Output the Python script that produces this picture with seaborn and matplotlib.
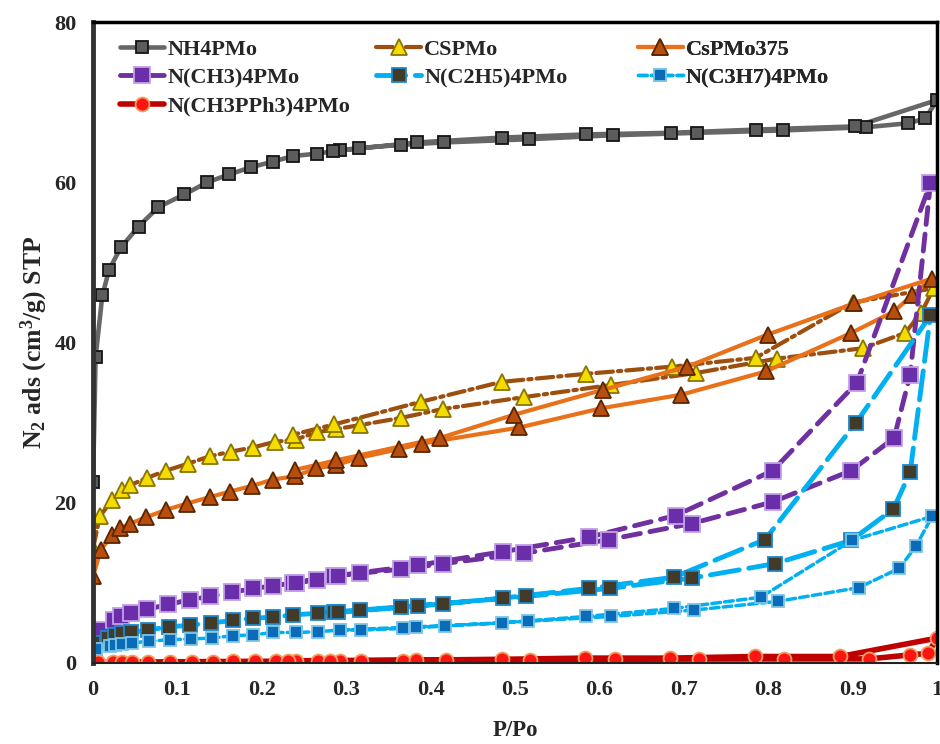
import pandas as pd
import matplotlib
matplotlib.use("Agg")
import matplotlib.pyplot as plt
import seaborn as sns

# ---- data (adsorption branch, then desorption branch) ----
nh4_ads_p = [0.0, 0.003, 0.011, 0.019, 0.033, 0.054, 0.077, 0.108, 0.135, 0.161, 0.187, 0.213, 0.237,
             0.265, 0.292, 0.315, 0.365, 0.416, 0.516, 0.616, 0.716, 0.817, 0.916, 0.966, 0.986, 1.0]
nh4_ads_v = [22.6, 38.2, 45.9, 49.1, 51.9, 54.5, 56.9, 58.5, 60.0, 61.0, 61.9, 62.6, 63.3,
             63.6, 64.0, 64.3, 64.7, 65.0, 65.4, 65.9, 66.2, 66.5, 66.9, 67.4, 68.0, 70.3]
nh4_des_p = [0.903, 0.785, 0.685, 0.584, 0.484, 0.384, 0.284]
nh4_des_v = [67.0, 66.6, 66.2, 66.0, 65.6, 65.0, 63.9]

cs_ads_p = [0.0, 0.008, 0.023, 0.034, 0.044, 0.064, 0.086, 0.113, 0.138, 0.164, 0.189, 0.215, 0.240,
            0.265, 0.288, 0.316, 0.365, 0.414, 0.511, 0.613, 0.714, 0.810, 0.912, 0.962, 0.981, 0.996]
cs_ads_v = [14.3, 18.3, 20.4, 21.6, 22.2, 23.1, 24.0, 24.9, 25.8, 26.4, 26.9, 27.6, 27.9,
            28.8, 29.2, 29.7, 30.6, 31.7, 33.2, 34.7, 36.2, 38.0, 39.3, 41.2, 43.7, 46.8]
cs_des_p = [0.900, 0.785, 0.686, 0.584, 0.484, 0.388, 0.286, 0.237]
cs_des_v = [45.0, 38.1, 37.0, 36.1, 35.1, 32.6, 29.8, 28.5]

cs375_ads_p = [0.0, 0.0, 0.009, 0.023, 0.032, 0.044, 0.063, 0.086, 0.111, 0.138, 0.162, 0.188, 0.213,
               0.239, 0.264, 0.288, 0.315, 0.362, 0.390, 0.505, 0.602, 0.697, 0.797, 0.898, 0.949, 0.970, 0.994]
cs375_ads_v = [1.5, 10.8, 14.1, 16.0, 16.8, 17.4, 18.2, 19.1, 19.9, 20.7, 21.4, 22.1, 22.9,
               23.3, 24.3, 24.7, 25.6, 26.7, 27.4, 29.4, 31.8, 33.5, 36.4, 41.2, 43.9, 45.9, 48.0]
cs375_des_p = [0.902, 0.799, 0.704, 0.604, 0.499, 0.411, 0.288, 0.239]
cs375_des_v = [44.9, 41.0, 37.0, 34.1, 31.0, 28.1, 25.3, 24.1]

me_ads_p = [0.008, 0.025, 0.033, 0.045, 0.064, 0.089, 0.115, 0.139, 0.165, 0.189, 0.213, 0.237, 0.265,
            0.286, 0.316, 0.365, 0.415, 0.511, 0.611, 0.709, 0.805, 0.898, 0.949, 0.968, 0.992]
me_ads_v = [4.1, 5.4, 5.8, 6.2, 6.7, 7.3, 7.9, 8.3, 8.8, 9.3, 9.6, 10.0, 10.4,
            10.9, 11.2, 11.7, 12.4, 13.7, 15.4, 17.4, 20.1, 24.0, 28.1, 36.0, 59.9]
me_des_p = [0.905, 0.805, 0.690, 0.587, 0.486, 0.385, 0.290, 0.240]
me_des_v = [35.0, 24.0, 18.4, 15.7, 13.9, 12.2, 10.9, 10.0]

et_ads_p = [0.0, 0.018, 0.026, 0.034, 0.045, 0.065, 0.090, 0.115, 0.140, 0.166, 0.190, 0.213, 0.237,
            0.267, 0.286, 0.316, 0.365, 0.415, 0.513, 0.612, 0.710, 0.808, 0.898, 0.948, 0.968, 0.992]
et_ads_v = [2.5, 3.1, 3.5, 3.7, 3.8, 4.1, 4.5, 4.7, 5.0, 5.3, 5.6, 5.7, 6.0,
            6.2, 6.4, 6.6, 7.0, 7.4, 8.3, 9.3, 10.6, 12.4, 15.3, 19.2, 23.8, 43.4]
et_des_p = [0.904, 0.796, 0.688, 0.587, 0.486, 0.385, 0.290]
et_des_v = [30.0, 15.4, 10.7, 9.3, 8.1, 7.1, 6.3]

pr_ads_p = [0.003, 0.020, 0.026, 0.034, 0.046, 0.066, 0.091, 0.116, 0.141, 0.166, 0.190, 0.213, 0.241,
            0.267, 0.292, 0.318, 0.367, 0.417, 0.515, 0.614, 0.712, 0.812, 0.907, 0.955, 0.975, 0.994]
pr_ads_v = [1.7, 2.1, 2.2, 2.4, 2.5, 2.7, 2.9, 3.0, 3.1, 3.4, 3.5, 3.8, 3.8,
            3.9, 4.1, 4.1, 4.3, 4.6, 5.2, 5.8, 6.6, 7.7, 9.4, 11.8, 14.6, 18.3]
pr_des_p = [0.899, 0.791, 0.688, 0.584, 0.484, 0.383, 0.292]
pr_des_v = [15.3, 8.2, 6.8, 5.8, 5.0, 4.5, 4.1]

ph_ads_p = [0.002, 0.006, 0.024, 0.034, 0.046, 0.065, 0.091, 0.117, 0.142, 0.166, 0.192, 0.217, 0.241,
            0.267, 0.292, 0.318, 0.367, 0.418, 0.518, 0.618, 0.718, 0.819, 0.919, 0.968, 0.989, 1.0]
ph_ads_v = [0.05, 0.06, 0.08, 0.1, 0.1, 0.12, 0.14, 0.15, 0.17, 0.18, 0.2, 0.21, 0.22,
            0.23, 0.25, 0.27, 0.3, 0.32, 0.38, 0.45, 0.48, 0.5, 0.5, 1.0, 1.2, 3.1]
ph_des_p = [0.885, 0.784, 0.684, 0.583, 0.484, 0.382, 0.281, 0.231]
ph_des_v = [0.8, 0.8, 0.6, 0.6, 0.45, 0.35, 0.3, 0.25]

# ---- styles ----
styles = {
    "NH4PMo": dict(color="#676767", lw=3.3, ls="-", marker="s", ms=9,
                   mfc="#5c5c5c", mec="#151515"),
    "CSPMo": dict(color="#9C4F0E", lw=3.0, ls=(0, (4, 1.2, 0.8, 1.2)), marker="^", ms=11,
                  mfc="#F5DC00", mec="#8a7400"),
    "CsPMo375": dict(color="#E8711A", lw=3.0, ls="-", marker="^", ms=11,
                     mfc="#B84E0C", mec="#5a2600"),
    "N(CH3)4PMo": dict(color="#7030A0", lw=3.5, ls=(0, (3.5, 2)), marker="s", ms=11.5,
                       mfc="#6A2EAA", mec="#c2a0e6"),
    "N(C2H5)4PMo": dict(color="#00B0F0", lw=3.5, ls=(0, (6, 2)), marker="s", ms=10,
                        mfc="#433b2a", mec="#1c88cc"),
    "N(C3H7)4PMo": dict(color="#00B0F0", lw=2.5, ls=(0, (2.5, 1.2)), marker="s", ms=9,
                        mfc="#0A6CB8", mec="#7cc6e4"),
    "N(CH3PPh3)4PMo": dict(color="#C00000", lw=4.0, ls="-", marker="o", ms=10,
                           mfc="#FF1414", mec="#EFA060"),
}

series = [
    ("NH4PMo", nh4_ads_p + nh4_des_p, nh4_ads_v + nh4_des_v),
    ("CSPMo", cs_ads_p + cs_des_p, cs_ads_v + cs_des_v),
    ("CsPMo375", cs375_ads_p + cs375_des_p, cs375_ads_v + cs375_des_v),
    ("N(CH3)4PMo", me_ads_p + me_des_p, me_ads_v + me_des_v),
    ("N(C2H5)4PMo", et_ads_p + et_des_p, et_ads_v + et_des_v),
    ("N(C3H7)4PMo", pr_ads_p + pr_des_p, pr_ads_v + pr_des_v),
    ("N(CH3PPh3)4PMo", ph_ads_p + ph_des_p, ph_ads_v + ph_des_v),
]

sns.set_theme(style="white")
plt.rcParams["font.family"] = ["Liberation Serif", "DejaVu Serif"]
plt.rcParams["font.weight"] = "bold"
plt.rcParams["mathtext.fontset"] = "custom"
plt.rcParams["mathtext.rm"] = "Liberation Serif:bold"
plt.rcParams["mathtext.it"] = "Liberation Serif:bold"
plt.rcParams["mathtext.bf"] = "Liberation Serif:bold"

fig, ax = plt.subplots(figsize=(9.4, 7.44), dpi=100)
fig.subplots_adjust(left=0.099, right=0.997, top=0.970, bottom=0.109)

lines = {}
for name, p, v in series:
    st = styles[name]
    df = pd.DataFrame({"P": p, "V": v})
    sns.lineplot(data=df, x="P", y="V", sort=False, estimator=None, ax=ax,
                 color=st["color"], linewidth=st["lw"], label=name,
                 marker=st["marker"], markersize=st["ms"])
    ln = ax.lines[-1]
    ln.set_linestyle(st["ls"])
    ln.set_markerfacecolor(st["mfc"])
    ln.set_markeredgecolor(st["mec"])
    ln.set_markeredgewidth(1.3)
    ln.set_dash_capstyle("round")
    lines[name] = ln

ax.set_xlim(0, 1)
ax.set_ylim(0, 80)
ax.set_xticks([0, 0.1, 0.2, 0.3, 0.4, 0.5, 0.6, 0.7, 0.8, 0.9, 1.0])
ax.set_xticklabels(["0", "0.1", "0.2", "0.3", "0.4", "0.5", "0.6", "0.7", "0.8", "0.9", "1"])
ax.set_yticks([0, 20, 40, 60, 80])
ax.tick_params(axis="both", labelsize=16, direction="out", length=5, width=1.2,
               color="#777777", pad=7)
for lab in ax.get_xticklabels() + ax.get_yticklabels():
    lab.set_fontweight("bold")

ax.set_xlabel("P/Po", fontsize=16.5, fontweight="bold", labelpad=15)
ax.set_ylabel("N$_2$ ads (cm$^3$/g) STP", fontsize=18.5, fontweight="bold", labelpad=3)

for side in ["top", "right"]:
    ax.spines[side].set_color("black")
    ax.spines[side].set_linewidth(2.5)
ax.spines["left"].set_color("#333333")
ax.spines["left"].set_linewidth(3.5)
ax.spines["bottom"].set_color("#222222")
ax.spines["bottom"].set_linewidth(1.5)

# legend laid out as three equal-width columns, one legend per column
if ax.get_legend() is not None:
    ax.get_legend().remove()
columns = [
    (0.008, ["NH4PMo", "N(CH3)4PMo", "N(CH3PPh3)4PMo"]),
    (0.312, ["CSPMo", "N(C2H5)4PMo"]),
    (0.622, ["CsPMo375", "N(C3H7)4PMo"]),
]
for x0, names in columns:
    leg = ax.legend([lines[n] for n in names], names, loc="upper left",
                    bbox_to_anchor=(x0, 1.005), frameon=False, handlelength=2.0,
                    handletextpad=0.15, labelspacing=0.35,
                    prop={"family": "Liberation Serif", "weight": "bold", "size": 16})
    ax.add_artist(leg)

plt.savefig("out.png", dpi=100)
